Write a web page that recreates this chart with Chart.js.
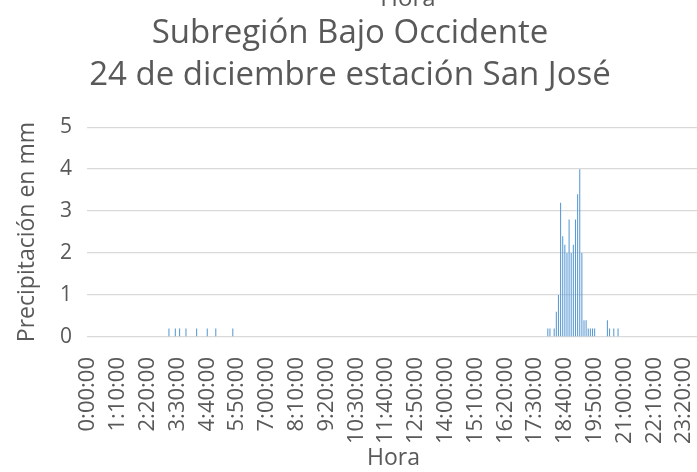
<!DOCTYPE html>
<html>
<head>
<meta charset="utf-8">
<script src="https://cdn.jsdelivr.net/npm/chart.js@4/dist/chart.umd.min.js"></script>
<style>
  html, body { margin: 0; padding: 0; background: #fff; }
  #wrap { width: 697px; height: 472px; overflow: hidden; position: relative; }
  canvas { position: absolute; left: 0; top: 0; }
</style>
</head>
<body>
<div id="wrap"><canvas id="chart" width="712" height="472"></canvas></div>
<script>
// registros de lluvia (hora, mm) - el resto del dia es 0
const rainTimes = [
    '3:10:00', '3:25:00', '3:35:00', '3:50:00', '4:15:00', '4:40:00', '5:00:00', '5:40:00',
    '18:00:00', '18:05:00', '18:15:00', '18:20:00', '18:25:00', '18:30:00', '18:35:00', '18:40:00',
    '18:45:00', '18:50:00', '18:55:00', '19:00:00', '19:05:00', '19:10:00', '19:15:00', '19:20:00',
    '19:25:00', '19:30:00', '19:35:00', '19:40:00', '19:45:00', '19:50:00',
    '20:20:00', '20:25:00', '20:35:00', '20:45:00'
];
const rainValues = [
    0.2, 0.2, 0.2, 0.2, 0.2, 0.2, 0.2, 0.2,
    0.2, 0.2, 0.2, 0.6, 1.0, 3.2, 2.4, 2.2,
    2.0, 2.8, 2.0, 2.2, 2.8, 3.4, 4.0, 2.0,
    0.4, 0.4, 0.2, 0.2, 0.2, 0.2,
    0.4, 0.2, 0.2, 0.2
];
const yTicks = [0, 1, 2, 3, 4, 5];

// categorias cada 5 minutos
const horas = [];
for (let m = 0; m < 24 * 60; m += 5) {
    horas.push(Math.floor(m / 60) + ':' + String(m % 60).padStart(2, '0') + ':00');
}

const textColor = '#595959';
const fontFamily = "'Open Sans', 'DejaVu Sans', sans-serif";

// texto "Hora" del grafico de arriba (recortado)
const topLabel = {
    id: 'topLabel',
    afterDraw(chart) {
        const ctx = chart.ctx;
        ctx.save();
        ctx.font = '24px ' + fontFamily;
        ctx.fillStyle = textColor;
        ctx.textAlign = 'center';
        ctx.textBaseline = 'alphabetic';
        ctx.fillText('Hora', 408, 6);
        ctx.restore();
    }
};

new Chart(document.getElementById('chart').getContext('2d'), {
    type: 'bar',
    data: {
        labels: horas,
        datasets: [{
            label: 'Precipitación',
            data: rainTimes.map((t, i) => ({ x: t, y: rainValues[i] })),
            backgroundColor: '#5B9BD5',
            borderWidth: 0,
            barPercentage: 0.5,
            categoryPercentage: 1.0
        }]
    },
    options: {
        responsive: false,
        animation: false,
        layout: { padding: { left: 0, right: 12, top: 0, bottom: 0 } },
        plugins: {
            legend: { display: false },
            tooltip: { enabled: false },
            title: {
                display: true,
                text: ['Subregión Bajo Occidente', '24 de diciembre estación San José'],
                color: textColor,
                font: { family: fontFamily, size: 33, weight: 'normal', lineHeight: 1.26 },
                padding: { top: 13, bottom: 31 }
            }
        },
        scales: {
            x: {
                grid: { display: false },
                border: { display: false },
                ticks: {
                    autoSkip: false,
                    minRotation: 90,
                    maxRotation: 90,
                    padding: 12,
                    color: textColor,
                    font: { family: fontFamily, size: 22 },
                    callback: function (val, index) {
                        return index % 14 === 0 ? horas[index] : '';
                    }
                },
                title: {
                    display: true,
                    text: 'Hora',
                    color: textColor,
                    font: { family: fontFamily, size: 23 },
                    padding: { top: 0, bottom: 0 }
                },
                afterFit: s => {
                    s.height = 135;
                    s.paddingLeft = 0;
                    s.paddingRight = 0;
                }
            },
            y: {
                min: 0,
                max: 5,
                afterBuildTicks: s => { s.ticks = yTicks.map(v => ({ value: v })); },
                grid: { color: '#D9D9D9', lineWidth: 1.3, drawTicks: false },
                border: { display: false },
                ticks: {
                    padding: 15,
                    color: textColor,
                    font: { family: fontFamily, size: 21 }
                },
                title: {
                    display: true,
                    text: 'Precipitación en mm',
                    color: textColor,
                    font: { family: fontFamily, size: 23 },
                    padding: { top: 14, bottom: 0 }
                },
                afterFit: s => { s.width = 87; }
            }
        }
    },
    plugins: [topLabel]
});
</script>
</body>
</html>
